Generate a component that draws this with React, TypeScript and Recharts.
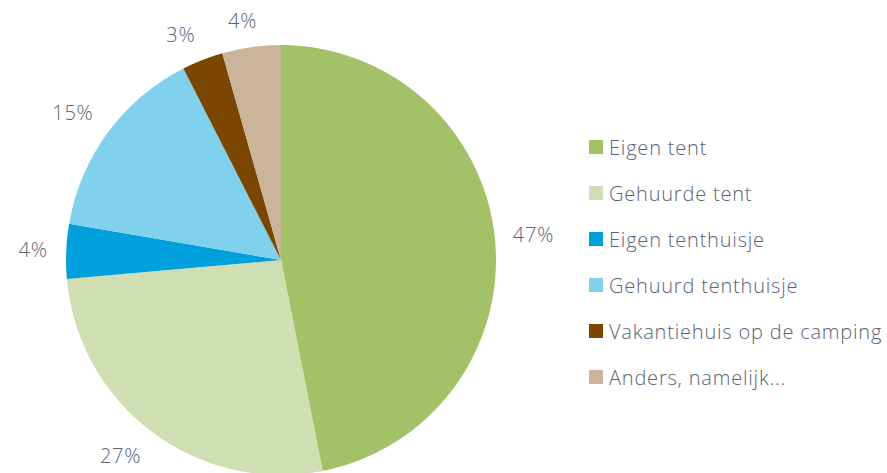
import React from "react";
import { PieChart, Pie, Cell, Legend } from "recharts";

const categories = [
  "Eigen tent",
  "Gehuurde tent",
  "Eigen tenthuisje",
  "Gehuurd tenthuisje",
  "Vakantiehuis op de camping",
  "Anders, namelijk...",
];
const values = [46.9, 26.7, 4.1, 14.8, 3.1, 4.4];
const labels = ["47%", "27%", "4%", "15%", "3%", "4%"];
const colors = ["#a3c166", "#d0deb4", "#00a0dc", "#7fd1ee", "#7b4700", "#cbb49a"];

const data = categories.map((name, i) => ({ name, value: values[i], label: labels[i] }));

const FONT = "'Open Sans', sans-serif";
const TEXT = "#586374";
const RAD = Math.PI / 180;
const FS = 20;
const LS = 0.8;

const clamp = (v: number) => Math.max(-1, Math.min(1, v));

const renderLabel = (props: any) => {
  const { cx, cy, midAngle, outerRadius, index } = props;
  const text = labels[index];
  const r = outerRadius + 18;
  const cos = Math.cos(-midAngle * RAD);
  const sin = Math.sin(-midAngle * RAD);
  const px = cx + r * cos;
  const py = cy + r * sin;
  const w = (text.length - 1) * 11 + 19;
  const h = 18;
  const x = px + clamp(cos * 3) * (w / 2);
  const y = py + clamp(sin * 3) * (h / 2);
  return (
    <text
      x={x}
      y={y}
      textAnchor="middle"
      dominantBaseline="central"
      fill={TEXT}
      fontFamily={FONT}
      fontWeight={300}
      fontSize={FS}
      letterSpacing={LS}
    >
      {text}
    </text>
  );
};

const renderLegend = () => (
  <div>
    {data.map((d, i) => (
      <div
        key={d.name}
        style={{ display: "flex", alignItems: "center", height: 46 }}
      >
        <div style={{ width: 14, height: 14, background: colors[i], marginRight: 6, flexShrink: 0 }} />
        <span
          style={{
            fontFamily: FONT,
            fontWeight: 300,
            fontSize: FS,
            letterSpacing: LS,
            color: TEXT,
            whiteSpace: "nowrap",
          }}
        >
          {d.name}
        </span>
      </div>
    ))}
  </div>
);

export default function App() {
  return (
    <div style={{ position: "absolute", left: 0, top: 0, width: 887, height: 473, background: "#fff", overflow: "hidden" }}>
      <PieChart width={887} height={473} margin={{ top: 0, right: 0, bottom: 0, left: 0 }}>
        <Pie
          data={data}
          dataKey="value"
          nameKey="name"
          cx={281}
          cy={260}
          outerRadius={215}
          startAngle={90}
          endAngle={-270}
          stroke="none"
          label={renderLabel}
          labelLine={false}
          isAnimationActive={false}
        >
          {data.map((d, i) => (
            <Cell key={d.name} fill={colors[i]} />
          ))}
        </Pie>
        <Legend
          content={renderLegend}
          wrapperStyle={{ position: "absolute", left: 589, top: 124, width: 298 }}
        />
      </PieChart>
    </div>
  );
}
